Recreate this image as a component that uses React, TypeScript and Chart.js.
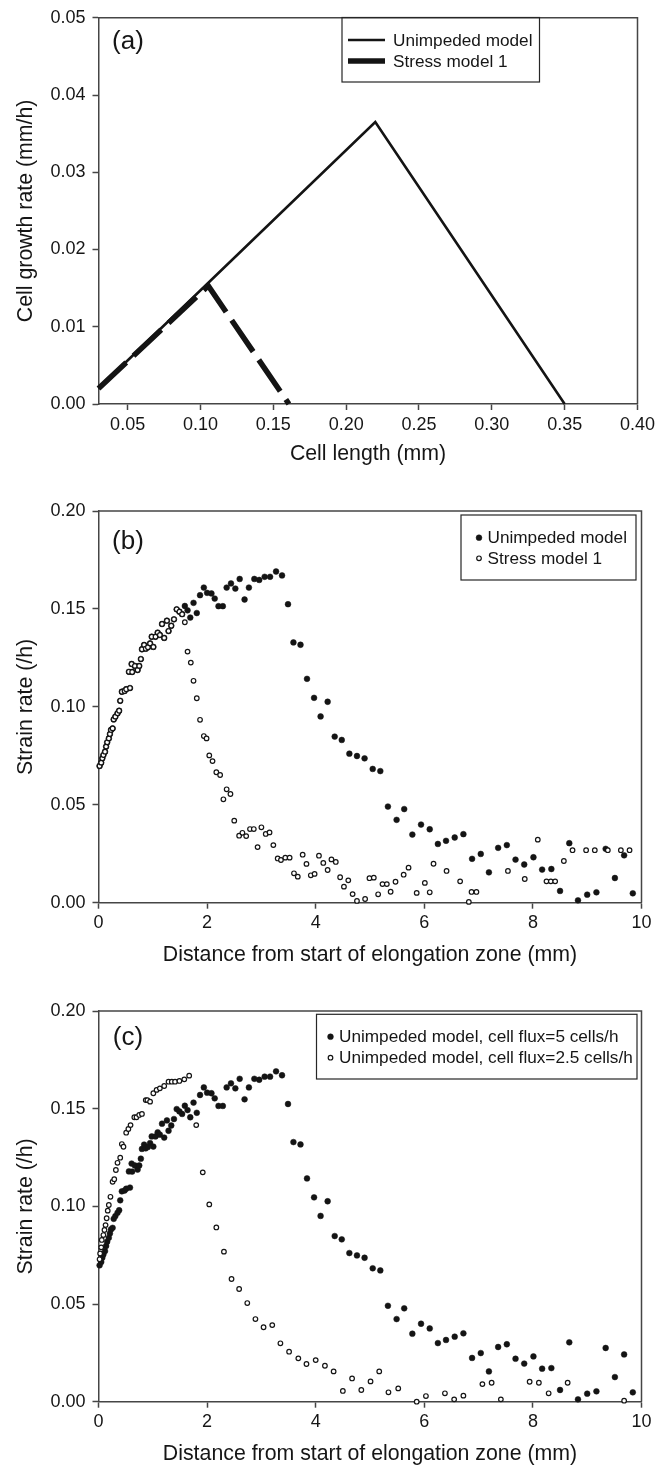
import React, { useEffect, useRef } from "react";
import { Chart, registerables } from "chart.js";

Chart.register(...registerables);

const FONT = "'Liberation Sans', Arial, Helvetica, sans-serif";
const TEXT = "#161616";
const AXIS = "#454545";
const INK = "#141414";

// ---------- Panel (a) data ----------
const A_UNIMPEDED_X = [0.03, 0.22, 0.35];
const A_UNIMPEDED_Y = [0.002, 0.0365, 0.0];
const A_STRESS_X = [0.03, 0.1053, 0.1607];
const A_STRESS_Y = [0.002, 0.0153, 0.0];
const A_X_TICKS = [0.05, 0.1, 0.15, 0.2, 0.25, 0.3, 0.35, 0.4];
const A_Y_TICKS = [0, 0.01, 0.02, 0.03, 0.04, 0.05];

// ---------- Panels (b) and (c) data ----------
const BC_X_TICKS = [0, 2, 4, 6, 8, 10];
const BC_Y_TICKS = [0, 0.05, 0.1, 0.15, 0.2];

// points shared by the unimpeded model and stress model 1 (before divergence)
const SHARED_EARLY_X = [0.02, 0.05, 0.07, 0.09, 0.12, 0.14, 0.16, 0.19, 0.21, 0.23, 0.26, 0.28, 0.31, 0.35, 0.38, 0.4, 0.43, 0.48, 0.51, 0.56, 0.58, 0.61, 0.62, 0.67, 0.72, 0.75, 0.78, 0.8, 0.84, 0.87, 0.91, 0.95, 0.98, 1.01, 1.05, 1.09, 1.13, 1.17, 1.21, 1.26, 1.29, 1.34, 1.39, 1.44, 1.49, 1.54];
const SHARED_EARLY_Y = [0.0698, 0.0715, 0.0737, 0.0754, 0.0771, 0.0797, 0.0819, 0.0839, 0.0861, 0.0882, 0.089, 0.0936, 0.095, 0.0967, 0.098, 0.1031, 0.1077, 0.1081, 0.109, 0.1179, 0.1096, 0.1219, 0.1178, 0.1209, 0.1188, 0.1209, 0.1244, 0.1294, 0.1316, 0.1297, 0.1304, 0.1324, 0.1358, 0.1306, 0.1358, 0.1379, 0.1367, 0.1423, 0.1352, 0.144, 0.1387, 0.1414, 0.1447, 0.1498, 0.1486, 0.1473];

const UNIMPEDED_LATE_X = [1.59, 1.64, 1.69, 1.75, 1.81, 1.87, 1.94, 2.0, 2.08, 2.14, 2.21, 2.29, 2.36, 2.44, 2.52, 2.6, 2.69, 2.77, 2.87, 2.96, 3.06, 3.16, 3.27, 3.38, 3.49, 3.59, 3.72, 3.84, 3.97, 4.09, 4.22, 4.35, 4.48, 4.62, 4.76, 4.9, 5.05, 5.19, 5.33, 5.49, 5.63, 5.78, 5.94, 6.1, 6.25, 6.4, 6.56, 6.72, 6.88, 7.04, 7.19, 7.36, 7.52, 7.68, 7.84, 8.01, 8.17, 8.34, 8.5, 8.67, 8.83, 9.0, 9.17, 9.34, 9.51, 9.68, 9.84];
const UNIMPEDED_LATE_Y = [0.1515, 0.1493, 0.1456, 0.1531, 0.1479, 0.157, 0.1609, 0.1582, 0.1579, 0.1553, 0.1514, 0.1514, 0.1609, 0.163, 0.1604, 0.1653, 0.1548, 0.1609, 0.1653, 0.1648, 0.1664, 0.1664, 0.1691, 0.1671, 0.1524, 0.1329, 0.1317, 0.1143, 0.1046, 0.0951, 0.1026, 0.0848, 0.0831, 0.0761, 0.0749, 0.0737, 0.0683, 0.0672, 0.0491, 0.0423, 0.0478, 0.0348, 0.0399, 0.0375, 0.03, 0.0316, 0.0333, 0.035, 0.0224, 0.0249, 0.0155, 0.028, 0.0294, 0.022, 0.0195, 0.0232, 0.0169, 0.0172, 0.006, 0.0304, 0.0012, 0.0041, 0.0053, 0.0275, 0.0126, 0.0242, 0.0048];

const STRESS_LATE_X = [1.59, 1.64, 1.7, 1.75, 1.81, 1.87, 1.94, 1.99, 2.04, 2.1, 2.17, 2.24, 2.3, 2.36, 2.43, 2.5, 2.59, 2.65, 2.72, 2.79, 2.86, 2.93, 3.0, 3.08, 3.15, 3.22, 3.3, 3.36, 3.44, 3.52, 3.6, 3.67, 3.76, 3.83, 3.91, 3.98, 4.06, 4.14, 4.22, 4.29, 4.37, 4.45, 4.52, 4.6, 4.68, 4.76, 4.91, 4.99, 5.07, 5.15, 5.23, 5.31, 5.38, 5.47, 5.62, 5.71, 5.86, 6.01, 6.1, 6.17, 6.41, 6.66, 6.82, 6.87, 6.96, 7.54, 7.85, 8.09, 8.25, 8.33, 8.41, 8.57, 8.73, 8.98, 9.14, 9.38, 9.62, 9.78];
const STRESS_LATE_Y = [0.1432, 0.1282, 0.1226, 0.1133, 0.1044, 0.0934, 0.0851, 0.0839, 0.0752, 0.0723, 0.0666, 0.0652, 0.0528, 0.0579, 0.0555, 0.0419, 0.0342, 0.0357, 0.034, 0.0376, 0.0376, 0.0284, 0.0385, 0.0351, 0.0359, 0.0294, 0.0226, 0.0218, 0.023, 0.023, 0.015, 0.0133, 0.0245, 0.0198, 0.014, 0.0147, 0.024, 0.0203, 0.0167, 0.0221, 0.0208, 0.013, 0.0082, 0.0114, 0.0044, 0.0009, 0.0019, 0.0125, 0.0128, 0.0043, 0.0095, 0.0095, 0.0056, 0.0107, 0.0143, 0.0179, 0.005, 0.0101, 0.0053, 0.0199, 0.0162, 0.0109, 0.0004, 0.0055, 0.0055, 0.0162, 0.0121, 0.0322, 0.0109, 0.0109, 0.0109, 0.0213, 0.0268, 0.0268, 0.0268, 0.0268, 0.0268, 0.0268];

const FLUX25_X = [0.02, 0.03, 0.05, 0.06, 0.09, 0.11, 0.13, 0.15, 0.17, 0.19, 0.22, 0.26, 0.29, 0.32, 0.35, 0.4, 0.43, 0.46, 0.51, 0.55, 0.59, 0.66, 0.7, 0.75, 0.8, 0.87, 0.9, 0.95, 1.01, 1.07, 1.13, 1.21, 1.29, 1.35, 1.41, 1.49, 1.58, 1.67, 1.8, 1.92, 2.04, 2.17, 2.31, 2.45, 2.59, 2.74, 2.89, 3.04, 3.2, 3.35, 3.51, 3.68, 3.83, 4.0, 4.17, 4.33, 4.5, 4.67, 4.84, 5.01, 5.17, 5.34, 5.52, 5.86, 6.03, 6.38, 6.55, 6.72, 7.07, 7.24, 7.41, 7.94, 8.11, 8.29, 8.64, 9.68];
const FLUX25_Y = [0.0729, 0.0759, 0.079, 0.0828, 0.0853, 0.0879, 0.0904, 0.0939, 0.0978, 0.1007, 0.1049, 0.1126, 0.1139, 0.1186, 0.1223, 0.1249, 0.1319, 0.1305, 0.1377, 0.1396, 0.1416, 0.1456, 0.1456, 0.1468, 0.1473, 0.1544, 0.1544, 0.1536, 0.1579, 0.1596, 0.1604, 0.1616, 0.1638, 0.1638, 0.1638, 0.1642, 0.165, 0.1669, 0.1416, 0.1174, 0.101, 0.0892, 0.0768, 0.0628, 0.0577, 0.0505, 0.0423, 0.0381, 0.0392, 0.0299, 0.0256, 0.0222, 0.0193, 0.0213, 0.0184, 0.0155, 0.0055, 0.0119, 0.006, 0.0104, 0.0155, 0.0048, 0.0068, 0.0, 0.0029, 0.0043, 0.0012, 0.0031, 0.009, 0.0097, 0.0012, 0.0102, 0.0097, 0.0043, 0.0097, 0.0005];

const toPts = (xs: number[], ys: number[]) => xs.map((x, i) => ({ x, y: ys[i] }));
const UNIMPEDED_PTS = [...toPts(SHARED_EARLY_X, SHARED_EARLY_Y), ...toPts(UNIMPEDED_LATE_X, UNIMPEDED_LATE_Y)];
const STRESS_PTS = [...toPts(SHARED_EARLY_X, SHARED_EARLY_Y), ...toPts(STRESS_LATE_X, STRESS_LATE_Y)];
const FLUX25_PTS = toPts(FLUX25_X, FLUX25_Y);

// ---------- decoration plugin: frame, panel letter, boxed legend ----------
const decoPlugin = {
  id: "deco",
  afterDraw(chart: any, _args: any, opts: any) {
    const ctx = chart.ctx;
    const ca = chart.chartArea;
    ctx.save();
    ctx.strokeStyle = AXIS;
    ctx.lineWidth = 1.5;
    ctx.beginPath();
    ctx.moveTo(ca.left, ca.top);
    ctx.lineTo(ca.right, ca.top);
    ctx.lineTo(ca.right, ca.bottom);
    ctx.stroke();

    ctx.fillStyle = TEXT;
    ctx.font = `26px ${FONT}`;
    ctx.textAlign = "center";
    ctx.textBaseline = "middle";
    ctx.fillText(opts.label, opts.labelX, opts.labelY);

    const lg = opts.legend;
    ctx.lineWidth = 1.2;
    ctx.strokeStyle = "#262626";
    ctx.strokeRect(lg.x, lg.y, lg.w, lg.h);
    ctx.font = `17.2px ${FONT}`;
    ctx.textAlign = "left";
    chart.data.datasets.forEach((ds: any, i: number) => {
      const ry = lg.rows[i];
      if (lg.kind === "line") {
        ctx.save();
        ctx.strokeStyle = ds.borderColor;
        ctx.lineWidth = ds.borderWidth;
        ctx.setLineDash([]);
        ctx.beginPath();
        ctx.moveTo(lg.sx0, ry);
        ctx.lineTo(lg.sx1, ry);
        ctx.stroke();
        ctx.restore();
      } else {
        ctx.save();
        ctx.beginPath();
        ctx.arc(lg.mx, ry, ds.pointRadius, 0, Math.PI * 2);
        ctx.fillStyle = ds.pointBackgroundColor;
        ctx.fill();
        ctx.lineWidth = ds.pointBorderWidth;
        ctx.strokeStyle = ds.pointBorderColor;
        ctx.stroke();
        ctx.restore();
      }
      ctx.fillStyle = TEXT;
      ctx.fillText(ds.label, lg.tx, ry + 1);
    });
    ctx.restore();
  },
};

function xAxis(min: number, max: number, ticks: number[], fmt: (v: number) => string, title: string, height: number, titlePad: number) {
  return {
    type: "linear",
    position: "bottom",
    min,
    max,
    afterBuildTicks: (s: any) => {
      s.ticks = ticks.map((value) => ({ value }));
    },
    afterFit: (s: any) => {
      s.height = height;
    },
    grid: { display: true, drawOnChartArea: false, drawTicks: true, tickLength: 6, tickWidth: 1.5, tickColor: AXIS },
    border: { display: true, color: AXIS, width: 1.5 },
    ticks: { color: TEXT, font: { family: FONT, size: 18 }, padding: 4, maxRotation: 0, autoSkip: false, callback: (v: any) => fmt(Number(v)) },
    title: { display: true, text: title, color: TEXT, font: { family: FONT, size: 21.3 }, padding: { top: 0, bottom: titlePad } },
  };
}

function yAxis(min: number, max: number, ticks: number[], title: string) {
  return {
    type: "linear",
    position: "left",
    min,
    max,
    afterBuildTicks: (s: any) => {
      s.ticks = ticks.map((value) => ({ value }));
    },
    afterFit: (s: any) => {
      s.width = 98.5;
    },
    grid: { display: true, drawOnChartArea: false, drawTicks: true, tickLength: 6, tickWidth: 1.5, tickColor: AXIS },
    border: { display: true, color: AXIS, width: 1.5 },
    ticks: { color: TEXT, font: { family: FONT, size: 18 }, padding: 7, autoSkip: false, callback: (v: any) => Number(v).toFixed(2) },
    title: { display: true, text: title, color: TEXT, font: { family: FONT, size: 21.3 }, padding: { top: 13.5, bottom: 0 } },
  };
}

const filledStyle = { pointRadius: 2.9, pointBackgroundColor: INK, pointBorderColor: INK, pointBorderWidth: 0.5, showLine: false, clip: false, order: 2 };
const openStyle = { pointRadius: 2.3, pointBackgroundColor: "#ffffff", pointBorderColor: INK, pointBorderWidth: 1.2, showLine: false, clip: false, order: 1 };

function configA() {
  return {
    type: "scatter",
    data: {
      datasets: [
        { label: "Unimpeded model", data: toPts(A_UNIMPEDED_X, A_UNIMPEDED_Y), showLine: true, borderColor: INK, borderWidth: 2.6, pointRadius: 0, clip: false, order: 2 },
        { label: "Stress model 1", data: toPts(A_STRESS_X, A_STRESS_Y), showLine: true, borderColor: INK, borderWidth: 5.5, borderDash: [38, 10], borderCapStyle: "butt", pointRadius: 0, clip: false, order: 1 },
      ],
    },
    options: {
      responsive: false,
      animation: false,
      events: [],
      layout: { padding: { left: 0, right: 29.5, top: 15, bottom: 0 } },
      scales: {
        x: xAxis(0.03, 0.4, A_X_TICKS, (v) => v.toFixed(2), "Cell length (mm)", 71, 8.5),
        y: yAxis(0, 0.05, A_Y_TICKS, "Cell growth rate (mm/h)"),
      },
      plugins: {
        legend: { display: false },
        tooltip: { enabled: false },
        deco: { label: "(a)", labelX: 128, labelY: 42, legend: { kind: "line", x: 342, y: 17.5, w: 197.5, h: 64.5, rows: [40, 61], sx0: 348, sx1: 385, tx: 393 } },
      },
    },
    plugins: [decoPlugin],
  };
}

function configB() {
  return {
    type: "scatter",
    data: {
      datasets: [
        { label: "Unimpeded model", data: UNIMPEDED_PTS, ...filledStyle },
        { label: "Stress model 1", data: STRESS_PTS, ...openStyle },
      ],
    },
    options: {
      responsive: false,
      animation: false,
      events: [],
      layout: { padding: { left: 0, right: 25.5, top: 36, bottom: 0 } },
      scales: {
        x: xAxis(0, 10, BC_X_TICKS, (v) => String(v), "Distance from start of elongation zone (mm)", 72.3, 7.4),
        y: yAxis(0, 0.2, BC_Y_TICKS, "Strain rate (/h)"),
      },
      plugins: {
        legend: { display: false },
        tooltip: { enabled: false },
        deco: { label: "(b)", labelX: 128, labelY: 66.7, legend: { kind: "point", x: 461, y: 40, w: 175, h: 65, rows: [62.7, 83.3], mx: 479, tx: 487.5 } },
      },
    },
    plugins: [decoPlugin],
  };
}

function configC() {
  return {
    type: "scatter",
    data: {
      datasets: [
        { label: "Unimpeded model, cell flux=5 cells/h", data: UNIMPEDED_PTS, ...filledStyle },
        { label: "Unimpeded model, cell flux=2.5 cells/h", data: FLUX25_PTS, ...openStyle },
      ],
    },
    options: {
      responsive: false,
      animation: false,
      events: [],
      layout: { padding: { left: 0, right: 25.5, top: 36, bottom: 0 } },
      scales: {
        x: xAxis(0, 10, BC_X_TICKS, (v) => String(v), "Distance from start of elongation zone (mm)", 68.3, 3),
        y: yAxis(0, 0.2, BC_Y_TICKS, "Strain rate (/h)"),
      },
      plugins: {
        legend: { display: false },
        tooltip: { enabled: false },
        deco: { label: "(c)", labelX: 128, labelY: 63, legend: { kind: "point", x: 316.5, y: 39.3, w: 320.5, h: 64.7, rows: [61.7, 82.7], mx: 330.5, tx: 339 } },
      },
    },
    plugins: [decoPlugin],
  };
}

function Panel({ top, height, make }: { top: number; height: number; make: () => any }) {
  const ref = useRef<HTMLCanvasElement | null>(null);
  useEffect(() => {
    if (!ref.current) return;
    const chart = new Chart(ref.current, make());
    return () => chart.destroy();
  }, [make]);
  return (
    <canvas
      ref={ref}
      width={667}
      height={height}
      style={{ position: "absolute", left: 0, top, width: 667, height, display: "block" }}
    />
  );
}

export default function App() {
  return (
    <div style={{ position: "fixed", left: 0, top: 0, width: 667, height: 1465, overflow: "hidden", background: "#ffffff" }}>
      <Panel top={0} height={475} make={configA} />
      <Panel top={475} height={500} make={configB} />
      <Panel top={975} height={495} make={configC} />
    </div>
  );
}
